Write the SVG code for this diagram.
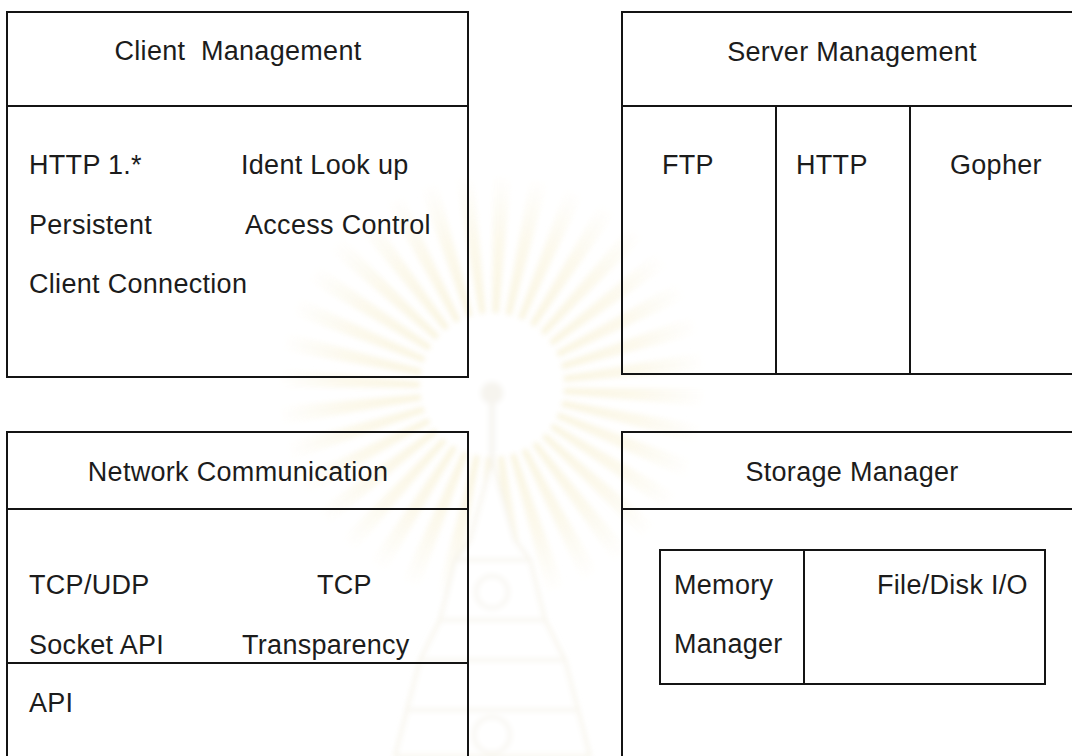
<svg xmlns="http://www.w3.org/2000/svg" width="1072" height="756" viewBox="0 0 1072 756">
  <style>
    .box { fill: none; stroke: #141414; stroke-width: 2; }
    .ln { stroke: #141414; stroke-width: 2; }
    .t { font-family: "Liberation Sans", Arial, sans-serif; font-size: 27px; letter-spacing: 0.3px; fill: #1c1c1c; }
    .title { text-anchor: middle; }
    .trim { fill: none; stroke: #f3efe3; stroke-width: 3; }
  </style>
  <defs>
    <radialGradient id="rayFade" gradientUnits="userSpaceOnUse" cx="492" cy="388" r="215">
      <stop offset="0.3" stop-color="#f6eecb"/>
      <stop offset="0.7" stop-color="#faf5e1"/>
      <stop offset="1" stop-color="#ffffff"/>
    </radialGradient>
    <filter id="soft" filterUnits="userSpaceOnUse" x="240" y="140" width="510" height="640">
      <feGaussianBlur stdDeviation="2.5"/>
    </filter>
  </defs>

  <rect width="1072" height="756" fill="#ffffff"/>

  <!-- faint emblem in the background -->
  <g id="emblem" opacity="0.6" filter="url(#soft)">
    <circle cx="492" cy="388" r="142" fill="none" stroke="url(#rayFade)" stroke-width="150" stroke-dasharray="12 12.8"/>
    <circle cx="492" cy="385" r="72" fill="#ffffff"/>
    <circle cx="492" cy="393" r="11" fill="#f1eee4"/>
    <rect x="489" y="404" width="6" height="60" fill="#f3f0e8"/>
    <path d="M492 460 L470 540 L455 560 L440 620 L420 660 L395 756 L590 756 L565 660 L545 620 L530 560 L515 540 Z" fill="#ffffff" stroke="#f1ecdc" stroke-width="3"/>
    <path class="trim" d="M455 560 H530 M440 620 H545 M420 660 H565 M405 710 H580"/>
    <circle class="trim" cx="492" cy="592" r="16"/>
    <circle class="trim" cx="492" cy="735" r="18"/>
  </g>

  <!-- Client Management -->
  <g id="client-management">
    <rect class="box" x="7" y="12" width="461" height="365"/>
    <line class="ln" x1="7" y1="106" x2="468" y2="106"/>
    <text class="t title" x="238" y="60" xml:space="preserve">Client  Management</text>
    <text class="t" x="29" y="174">HTTP 1.*</text>
    <text class="t" x="241" y="174">Ident Look up</text>
    <text class="t" x="29" y="234">Persistent</text>
    <text class="t" x="245" y="234">Access Control</text>
    <text class="t" x="29" y="293">Client Connection</text>
  </g>

  <!-- Server Management -->
  <g id="server-management">
    <rect class="box" x="622" y="12" width="460" height="362"/>
    <line class="ln" x1="622" y1="106" x2="1082" y2="106"/>
    <line class="ln" x1="776" y1="106" x2="776" y2="374"/>
    <line class="ln" x1="910" y1="106" x2="910" y2="374"/>
    <text class="t title" x="852" y="61">Server Management</text>
    <text class="t" x="662" y="174">FTP</text>
    <text class="t" x="796" y="174">HTTP</text>
    <text class="t" x="950" y="174">Gopher</text>
  </g>

  <!-- Network Communication -->
  <g id="network-communication">
    <rect class="box" x="7" y="432" width="461" height="400"/>
    <line class="ln" x1="7" y1="509" x2="468" y2="509"/>
    <line class="ln" x1="7" y1="663" x2="468" y2="663"/>
    <text class="t title" x="238" y="481">Network Communication</text>
    <text class="t" x="29" y="594">TCP/UDP</text>
    <text class="t" x="317" y="594">TCP</text>
    <text class="t" x="29" y="654">Socket API</text>
    <text class="t" x="242" y="654">Transparency</text>
    <text class="t" x="29" y="712">API</text>
  </g>

  <!-- Storage Manager -->
  <g id="storage-manager">
    <rect class="box" x="622" y="432" width="460" height="400"/>
    <line class="ln" x1="622" y1="509" x2="1082" y2="509"/>
    <text class="t title" x="852" y="481">Storage Manager</text>
    <rect class="box" x="660" y="550" width="385" height="134"/>
    <line class="ln" x1="804" y1="550" x2="804" y2="684"/>
    <text class="t" x="674" y="594">Memory</text>
    <text class="t" x="674" y="653">Manager</text>
    <text class="t" x="877" y="594">File/Disk I/O</text>
  </g>

  <g id="connectors"/>
</svg>
